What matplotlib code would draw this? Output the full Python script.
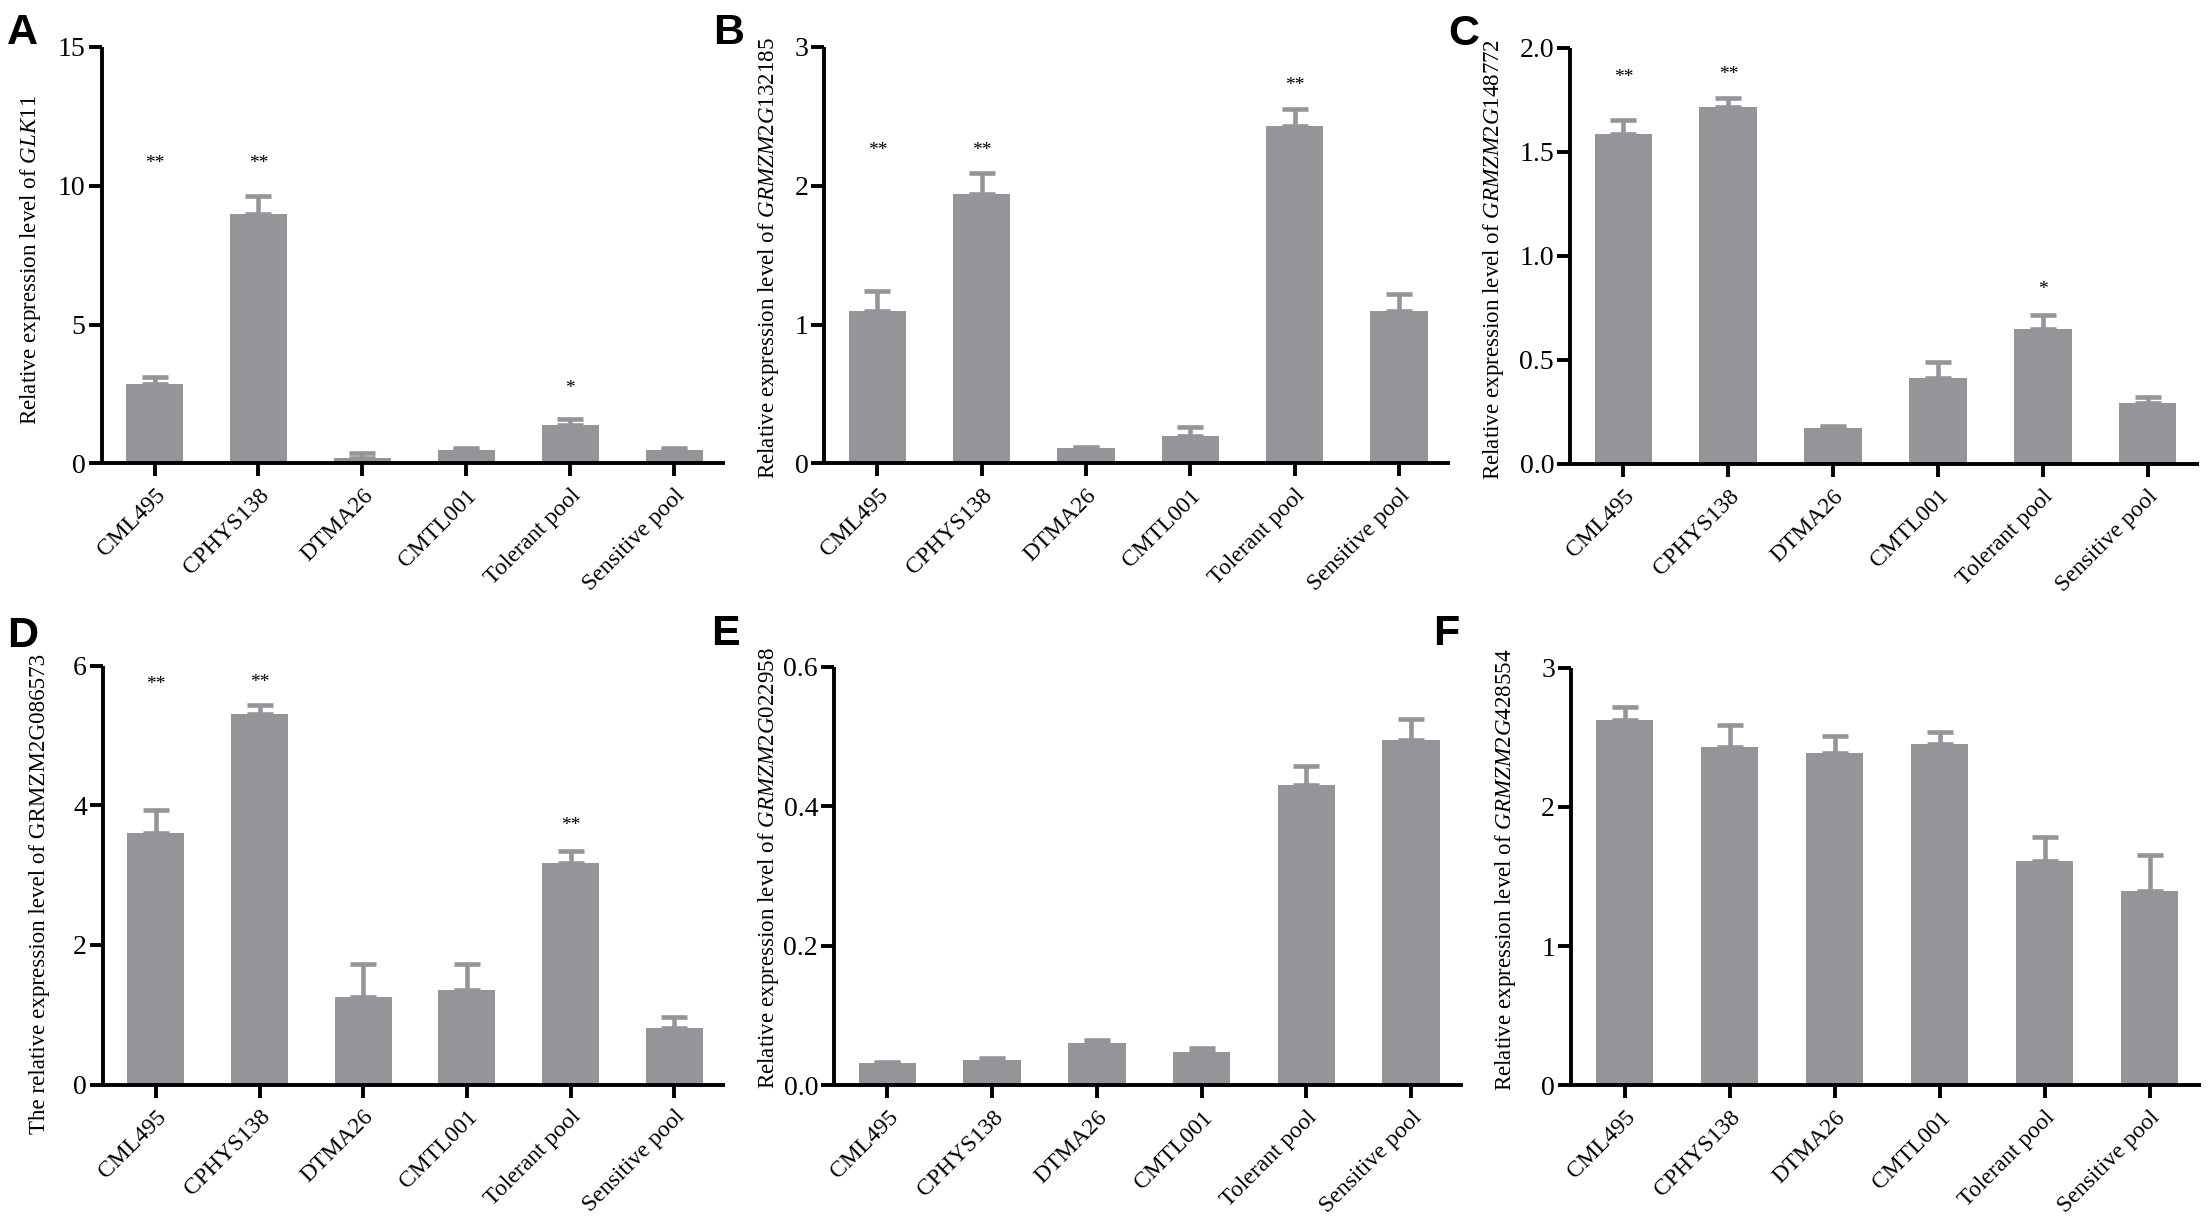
import numpy as np
import matplotlib.pyplot as plt

plt.rcParams['font.family'] = ['Liberation Serif', 'DejaVu Serif']
plt.rcParams['mathtext.fontset'] = 'custom'
plt.rcParams['mathtext.rm'] = 'Liberation Serif'
plt.rcParams['mathtext.it'] = 'Liberation Serif:italic'

lines = ['CML495', 'CPHYS138', 'DTMA26', 'CMTL001', 'Tolerant pool', 'Sensitive pool']

# panel A - GLK11
glk11_mean = [2.85, 8.96, 0.21, 0.48, 1.38, 0.48]
glk11_err = [0.25, 0.65, 0.18, 0.07, 0.21, 0.07]
glk11_stars = ['**', '**', '', '', '*', '']
glk11_star_y = [10.8, 10.8, 0, 0, 2.7, 0]

# panel B - GRMZM2G132185
g132185_mean = [1.095, 1.94, 0.11, 0.20, 2.43, 1.095]
g132185_err = [0.145, 0.15, 0.005, 0.065, 0.12, 0.125]
g132185_stars = ['**', '**', '', '', '**', '']
g132185_star_y = [2.25, 2.25, 0, 0, 2.72, 0]

# panel C - GRMZM2G148772
g148772_mean = [1.586, 1.715, 0.175, 0.414, 0.651, 0.291]
g148772_err = [0.066, 0.044, 0.009, 0.077, 0.065, 0.029]
g148772_stars = ['**', '**', '', '', '*', '']
g148772_star_y = [1.86, 1.87, 0, 0, 0.84, 0]

# panel D - GRMZM2G086573
g086573_mean = [3.595, 5.307, 1.251, 1.354, 3.174, 0.813]
g086573_err = [0.33, 0.131, 0.478, 0.375, 0.171, 0.148]
g086573_stars = ['**', '**', '', '', '**', '']
g086573_star_y = [5.73, 5.76, 0, 0, 3.71, 0]

# panel E - GRMZM2G022958
g022958_mean = [0.0324, 0.037, 0.0609, 0.0484, 0.430, 0.495]
g022958_err = [0.0018, 0.0023, 0.0046, 0.0056, 0.028, 0.030]

# panel F - GRMZM2G428554
g428554_mean = [2.623, 2.432, 2.387, 2.452, 1.608, 1.394]
g428554_err = [0.092, 0.154, 0.119, 0.086, 0.175, 0.26]

W, H = 2209, 1222
fig = plt.figure(figsize=(W / 100, H / 100), dpi=100)
bar_color = '#939598'


def panel(box, means, errs, yticks, ticklabels, ylabel, label_xy, letter, letter_xy,
          stars=None, star_y=None):
    l, t, r, b = box
    ax = fig.add_axes([l / W, 1 - b / H, (r - l) / W, (b - t) / H])
    x = np.arange(len(lines))
    ax.bar(x, means, width=0.55, color=bar_color, zorder=2)
    ax.errorbar(x, means, yerr=[np.zeros(len(means)), errs], fmt='none',
                ecolor=bar_color, elinewidth=3.3, capsize=9.7, capthick=3.3, zorder=3)
    if stars is not None:
        for xi, s, sy in zip(x, stars, star_y):
            if s:
                ax.text(xi, sy, s, ha='center', va='center', fontsize=14)
    ax.set_xlim(-0.51, 5.49)
    ax.set_ylim(0, yticks[-1])
    ax.set_yticks(yticks)
    ax.set_yticklabels(ticklabels, fontsize=20)
    ax.set_xticks(x)
    ax.set_xticklabels(lines, rotation=45, ha='right', rotation_mode='anchor', fontsize=17)
    for side in ['top', 'right']:
        ax.spines[side].set_visible(False)
    for side in ['left', 'bottom']:
        ax.spines[side].set_linewidth(2.8)
        ax.spines[side].set_capstyle('butt')
    ax.tick_params(axis='both', direction='out', length=9.5, width=2.8)
    ax.tick_params(axis='y', pad=2)
    ax.tick_params(axis='x', pad=6)
    fig.text(label_xy[0] / W, 1 - label_xy[1] / H, ylabel, rotation=90,
             ha='center', va='center', fontsize=16.6)
    fig.text(letter_xy[0] / W, 1 - letter_xy[1] / H, letter, ha='left', va='top',
             fontsize=31, fontweight='bold', family='Liberation Sans')
    return ax


panel((101.6, 46.7, 725, 463.4), glk11_mean, glk11_err, [0, 5, 10, 15],
      ['0', '5', '10', '15'], r'Relative expression level of $\mathit{GLK11}$',
      (30.7, 259.5), 'A', (7, 13), glk11_stars, glk11_star_y)
panel((824.3, 46.7, 1450, 463.4), g132185_mean, g132185_err, [0, 1, 2, 3],
      ['0', '1', '2', '3'], r'Relative expression level of $\mathit{GRMZM2G132185}$',
      (768.5, 258), 'B', (713, 13), g132185_stars, g132185_star_y)
panel((1570, 47.9, 2199, 464), g148772_mean, g148772_err, [0, 0.5, 1.0, 1.5, 2.0],
      ['0.0', '0.5', '1.0', '1.5', '2.0'], r'Relative expression level of $\mathit{GRMZM2G148772}$',
      (1493.5, 259), 'C', (1448, 14), g148772_stars, g148772_star_y)
panel((103, 665.5, 725, 1084.6), g086573_mean, g086573_err, [0, 2, 4, 6],
      ['0', '2', '4', '6'], 'The relative expression level of GRMZM2G086573',
      (40, 894), 'D', (7, 616), g086573_stars, g086573_star_y)
panel((834, 666.7, 1462.5, 1085.4), g022958_mean, g022958_err, [0, 0.2, 0.4, 0.6],
      ['0.0', '0.2', '0.4', '0.6'], r'Relative expression level of $\mathit{GRMZM2G022958}$',
      (768.5, 868), 'E', (711, 614))
panel((1571, 667.5, 2201, 1085.4), g428554_mean, g428554_err, [0, 1, 2, 3],
      ['0', '1', '2', '3'], r'Relative expression level of $\mathit{GRMZM2G428554}$',
      (1505.7, 870), 'F', (1433, 614))

fig.savefig('out.png', dpi=100)
